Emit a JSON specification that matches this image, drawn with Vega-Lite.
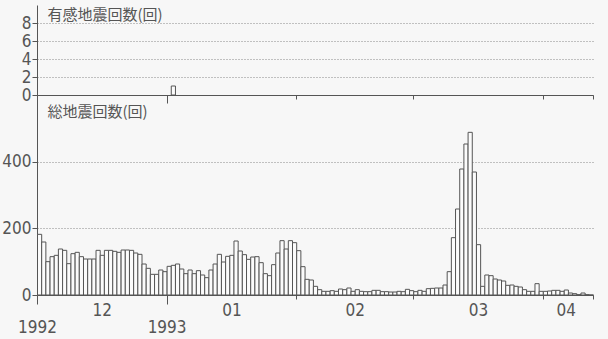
{
  "$schema": "https://vega.github.io/schema/vega-lite/v6.json",
  "autosize": {"type": "none"},
  "padding": {"left": 37, "top": 5, "right": 15, "bottom": 44},
  "background": "#f7f7f7",
  "width": 556,
  "height": 290,
  "datasets": {
    "felt": [{"date": "1993-01-02", "count": 1}],
    "total": [
      {"date": "1992-12-01", "count": 182}, {"date": "1992-12-02", "count": 159}, {"date": "1992-12-03", "count": 100},
      {"date": "1992-12-04", "count": 115}, {"date": "1992-12-05", "count": 119}, {"date": "1992-12-06", "count": 138},
      {"date": "1992-12-07", "count": 134}, {"date": "1992-12-08", "count": 94}, {"date": "1992-12-09", "count": 124},
      {"date": "1992-12-10", "count": 128}, {"date": "1992-12-11", "count": 115}, {"date": "1992-12-12", "count": 108},
      {"date": "1992-12-13", "count": 108}, {"date": "1992-12-14", "count": 108}, {"date": "1992-12-15", "count": 134},
      {"date": "1992-12-16", "count": 119}, {"date": "1992-12-17", "count": 134}, {"date": "1992-12-18", "count": 134},
      {"date": "1992-12-19", "count": 131}, {"date": "1992-12-20", "count": 128}, {"date": "1992-12-21", "count": 135},
      {"date": "1992-12-22", "count": 135}, {"date": "1992-12-23", "count": 134}, {"date": "1992-12-24", "count": 126},
      {"date": "1992-12-25", "count": 122}, {"date": "1992-12-26", "count": 93}, {"date": "1992-12-27", "count": 80},
      {"date": "1992-12-28", "count": 62}, {"date": "1992-12-29", "count": 62}, {"date": "1992-12-30", "count": 75},
      {"date": "1992-12-31", "count": 70},
      {"date": "1993-01-01", "count": 86}, {"date": "1993-01-02", "count": 89}, {"date": "1993-01-03", "count": 93},
      {"date": "1993-01-04", "count": 78}, {"date": "1993-01-05", "count": 64}, {"date": "1993-01-06", "count": 75},
      {"date": "1993-01-07", "count": 64}, {"date": "1993-01-08", "count": 73}, {"date": "1993-01-09", "count": 60},
      {"date": "1993-01-10", "count": 52}, {"date": "1993-01-11", "count": 75}, {"date": "1993-01-12", "count": 93},
      {"date": "1993-01-13", "count": 122}, {"date": "1993-01-14", "count": 99}, {"date": "1993-01-15", "count": 116},
      {"date": "1993-01-16", "count": 119}, {"date": "1993-01-17", "count": 162}, {"date": "1993-01-18", "count": 132},
      {"date": "1993-01-19", "count": 121}, {"date": "1993-01-20", "count": 107}, {"date": "1993-01-21", "count": 114},
      {"date": "1993-01-22", "count": 115}, {"date": "1993-01-23", "count": 97}, {"date": "1993-01-24", "count": 64},
      {"date": "1993-01-25", "count": 58}, {"date": "1993-01-26", "count": 91}, {"date": "1993-01-27", "count": 126},
      {"date": "1993-01-28", "count": 163}, {"date": "1993-01-29", "count": 138}, {"date": "1993-01-30", "count": 163},
      {"date": "1993-01-31", "count": 157},
      {"date": "1993-02-01", "count": 133}, {"date": "1993-02-02", "count": 85}, {"date": "1993-02-03", "count": 47},
      {"date": "1993-02-04", "count": 45}, {"date": "1993-02-05", "count": 26}, {"date": "1993-02-06", "count": 16},
      {"date": "1993-02-07", "count": 11}, {"date": "1993-02-08", "count": 11}, {"date": "1993-02-09", "count": 13},
      {"date": "1993-02-10", "count": 11}, {"date": "1993-02-11", "count": 18}, {"date": "1993-02-12", "count": 16},
      {"date": "1993-02-13", "count": 21}, {"date": "1993-02-14", "count": 11}, {"date": "1993-02-15", "count": 16},
      {"date": "1993-02-16", "count": 11}, {"date": "1993-02-17", "count": 10}, {"date": "1993-02-18", "count": 10},
      {"date": "1993-02-19", "count": 14}, {"date": "1993-02-20", "count": 14}, {"date": "1993-02-21", "count": 10},
      {"date": "1993-02-22", "count": 10}, {"date": "1993-02-23", "count": 9}, {"date": "1993-02-24", "count": 9},
      {"date": "1993-02-25", "count": 11}, {"date": "1993-02-26", "count": 10}, {"date": "1993-02-27", "count": 17},
      {"date": "1993-02-28", "count": 13},
      {"date": "1993-03-01", "count": 10}, {"date": "1993-03-02", "count": 14}, {"date": "1993-03-03", "count": 11},
      {"date": "1993-03-04", "count": 19}, {"date": "1993-03-05", "count": 20}, {"date": "1993-03-06", "count": 21},
      {"date": "1993-03-07", "count": 21}, {"date": "1993-03-08", "count": 30}, {"date": "1993-03-09", "count": 70},
      {"date": "1993-03-10", "count": 172}, {"date": "1993-03-11", "count": 258}, {"date": "1993-03-12", "count": 378},
      {"date": "1993-03-13", "count": 453}, {"date": "1993-03-14", "count": 488}, {"date": "1993-03-15", "count": 369},
      {"date": "1993-03-16", "count": 151}, {"date": "1993-03-17", "count": 26}, {"date": "1993-03-18", "count": 60},
      {"date": "1993-03-19", "count": 58}, {"date": "1993-03-20", "count": 48}, {"date": "1993-03-21", "count": 45},
      {"date": "1993-03-22", "count": 42}, {"date": "1993-03-23", "count": 29}, {"date": "1993-03-24", "count": 30},
      {"date": "1993-03-25", "count": 26}, {"date": "1993-03-26", "count": 24}, {"date": "1993-03-27", "count": 16},
      {"date": "1993-03-28", "count": 11}, {"date": "1993-03-29", "count": 11}, {"date": "1993-03-30", "count": 34},
      {"date": "1993-03-31", "count": 11},
      {"date": "1993-04-01", "count": 11}, {"date": "1993-04-02", "count": 12}, {"date": "1993-04-03", "count": 14},
      {"date": "1993-04-04", "count": 14}, {"date": "1993-04-05", "count": 11}, {"date": "1993-04-06", "count": 15},
      {"date": "1993-04-07", "count": 6}, {"date": "1993-04-08", "count": 4}, {"date": "1993-04-09", "count": 1},
      {"date": "1993-04-10", "count": 6}, {"date": "1993-04-11", "count": 1}, {"date": "1993-04-12", "count": 0}
    ]
  },
  "config": {
    "view": {"stroke": null},
    "axis": {
      "labelFont": "Liberation Sans Narrow, DejaVu Sans Condensed, Roboto Condensed, sans-serif",
      "labelFontSize": 17,
      "labelColor": "#555",
      "domainColor": "#555",
      "tickColor": "#555",
      "gridColor": "#888",
      "gridDash": [1, 2],
      "titleFont": "Noto Sans CJK JP",
      "titleFontSize": 15,
      "titleFontWeight": "normal",
      "titleColor": "#555"
    }
  },
  "resolve": {"scale": {"y": "independent"}, "axis": {"x": "independent", "y": "independent"}},
  "layer": [
    {
      "data": {"name": "total"},
      "mark": {"type": "bar", "fill": "#fbfbfb", "stroke": "#555", "strokeWidth": 1, "binSpacing": 0},
      "encoding": {
        "x": {
          "field": "date", "type": "temporal", "timeUnit": "utcyearmonthdate",
          "scale": {"domain": [{"year": 1992, "month": 12, "date": 1, "utc": true}, {"year": 1993, "month": 4, "date": 13, "utc": true}]},
          "axis": {
            "orient": "bottom", "title": null, "labels": false, "grid": false,
            "values": [
              {"year": 1992, "month": 12, "date": 1, "utc": true},
              {"year": 1993, "month": 1, "date": 1, "utc": true},
              {"year": 1993, "month": 2, "date": 1, "utc": true},
              {"year": 1993, "month": 3, "date": 1, "utc": true},
              {"year": 1993, "month": 4, "date": 1, "utc": true},
              {"year": 1993, "month": 4, "date": 13, "utc": true}
            ],
            "tickSize": {"condition": {"test": "utcmonth(datum.value) == 0 || utcmonth(datum.value) == 11", "value": 9}, "value": 4}
          }
        },
        "y": {
          "field": "count", "type": "quantitative",
          "scale": {"domain": [0, 600], "range": [290, 90]},
          "axis": {
            "orient": "left", "values": [0, 200, 400], "grid": true, "tickSize": 5, "labelPadding": 1,
            "title": "総地震回数(回)", "titleAngle": 0, "titleAlign": "left", "titleBaseline": "middle",
            "titleX": 10, "titleY": 106
          }
        }
      }
    },
    {
      "data": {"name": "felt"},
      "mark": {"type": "bar", "fill": "#fbfbfb", "stroke": "#555", "strokeWidth": 1, "binSpacing": 0},
      "encoding": {
        "x": {
          "field": "date", "type": "temporal", "timeUnit": "utcyearmonthdate",
          "axis": {
            "orient": "top", "offset": -90, "title": null, "labels": false, "grid": false,
            "values": [
              {"year": 1992, "month": 12, "date": 1, "utc": true},
              {"year": 1993, "month": 1, "date": 1, "utc": true},
              {"year": 1993, "month": 2, "date": 1, "utc": true},
              {"year": 1993, "month": 3, "date": 1, "utc": true},
              {"year": 1993, "month": 4, "date": 1, "utc": true},
              {"year": 1993, "month": 4, "date": 13, "utc": true}
            ],
            "tickSize": {"condition": {"test": "utcmonth(datum.value) == 0 || utcmonth(datum.value) == 11", "value": -8}, "value": -4}
          }
        },
        "y": {
          "field": "count", "type": "quantitative",
          "scale": {"domain": [0, 10], "range": [90, 0]},
          "axis": {
            "orient": "left", "values": [0, 2, 4, 6, 8], "grid": true, "tickSize": 5, "labelPadding": 1,
            "title": "有感地震回数(回)", "titleAngle": 0, "titleAlign": "left", "titleBaseline": "middle",
            "titleX": 10, "titleY": 9
          }
        }
      }
    },
    {
      "data": {"name": "total"},
      "mark": {"type": "bar", "opacity": 0},
      "encoding": {
        "x": {
          "field": "date", "type": "temporal", "timeUnit": "utcyearmonthdate",
          "axis": {
            "orient": "bottom", "title": null, "grid": false, "ticks": false, "domain": false, "tickSize": 0,
            "labelPadding": 15, "labelBaseline": "middle", "labelFlush": false, "labelOverlap": false, "labelBound": false,
            "labelExpr": "utcFormat(datum.value, '%m')",
            "values": [
              {"year": 1992, "month": 12, "date": 16, "hours": 12, "utc": true},
              {"year": 1993, "month": 1, "date": 16, "hours": 12, "utc": true},
              {"year": 1993, "month": 2, "date": 15, "utc": true},
              {"year": 1993, "month": 3, "date": 16, "hours": 12, "utc": true},
              {"year": 1993, "month": 4, "date": 6, "hours": 12, "utc": true}
            ]
          }
        }
      }
    },
    {
      "data": {"name": "total"},
      "mark": {"type": "bar", "opacity": 0},
      "encoding": {
        "x": {
          "field": "date", "type": "temporal", "timeUnit": "utcyearmonthdate",
          "axis": {
            "orient": "bottom", "title": null, "grid": false, "ticks": false, "domain": false, "tickSize": 0,
            "labelPadding": 32, "labelBaseline": "middle", "labelFlush": false, "labelOverlap": false, "labelBound": false,
            "labelExpr": "utcFormat(datum.value, '%Y')",
            "values": [
              {"year": 1992, "month": 12, "date": 1, "utc": true},
              {"year": 1993, "month": 1, "date": 1, "utc": true}
            ]
          }
        }
      }
    }
  ]
}
